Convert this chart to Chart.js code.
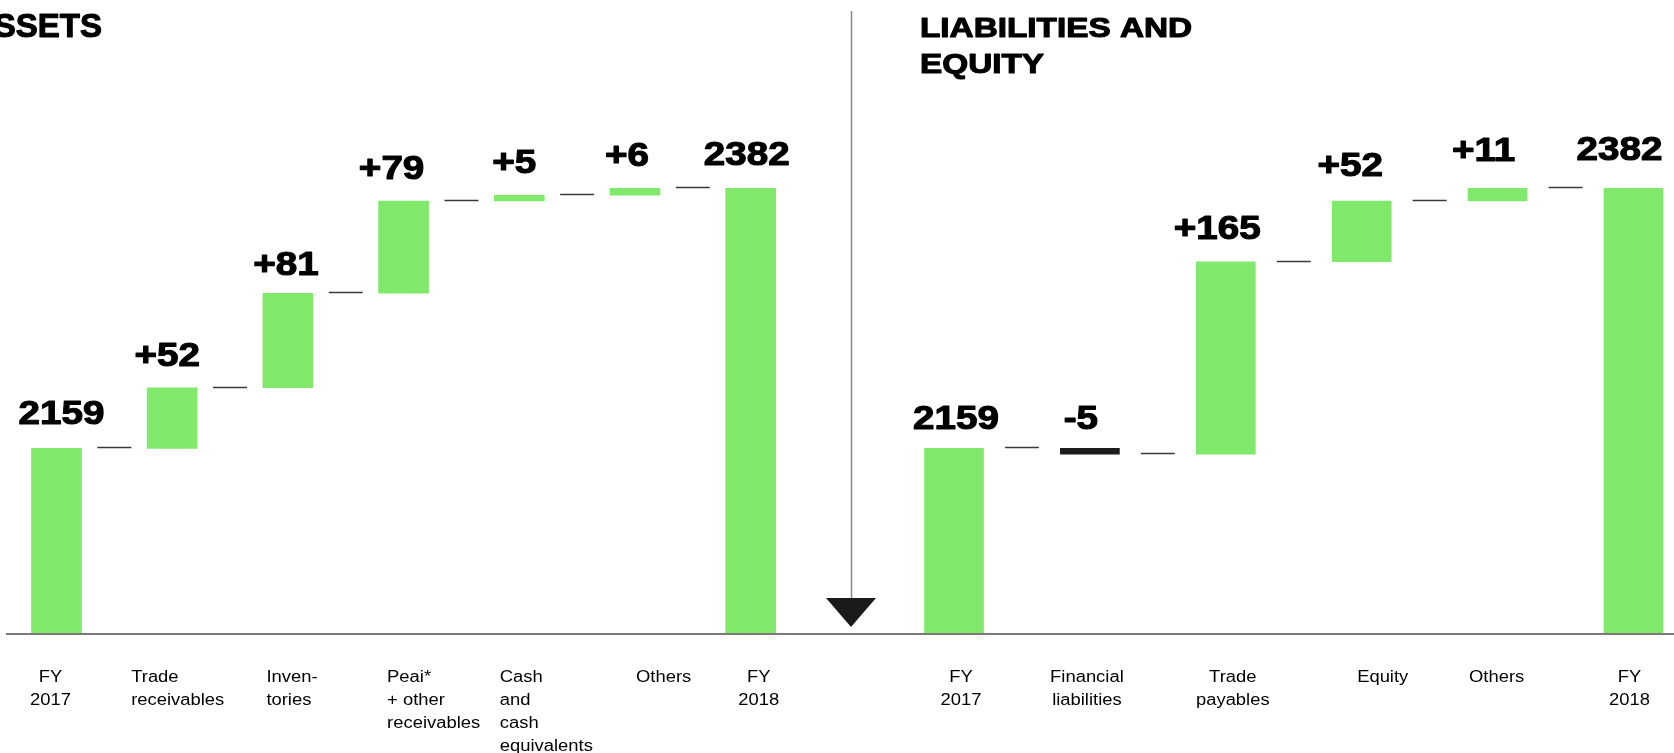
<!DOCTYPE html>
<html>
<head>
<meta charset="utf-8">
<script src="https://cdn.jsdelivr.net/npm/chart.js@4/dist/chart.umd.min.js"></script>
<style>
  html, body { margin: 0; padding: 0; background: #ffffff; overflow: hidden; }
  #wrap { position: relative; width: 1674px; height: 753px; }
  canvas { position: absolute; left: 0; top: 0; }
</style>
</head>
<body>
<div id="wrap">
  <canvas id="assets" width="1674" height="753"></canvas>
  <canvas id="liabilities" width="1674" height="753"></canvas>
</div>
<script>
// ---- Balance sheet bridge, FY 2017 -> FY 2018 ----
const assetLabels = [["FY", "2017"], ["Trade", "receivables"], ["Inven-", "tories"],
                     ["Peai*", "+ other", "receivables"], ["Cash", "and", "cash", "equivalents"],
                     ["Others"], ["FY", "2018"]];
const assetValues = [2159, 52, 81, 79, 5, 6, 2382];
const assetTotals = [true, false, false, false, false, false, true];

const liabLabels = [["FY", "2017"], ["Financial", "liabilities"], ["Trade", "payables"],
                    ["Equity"], ["Others"], ["FY", "2018"]];
const liabValues = [2159, -5, 165, 52, 11, 2382];
const liabTotals = [true, false, false, false, false, true];

const axisMin = 2000;
const axisMax = 2500;

// ---- look & layout ----
const GREEN = '#80e86a';
const NEGATIVE = '#1c1c1c';
const FONT = '"Liberation Sans", Arial, Helvetica, sans-serif';
const BASE_Y = 634;
const TEXT_STRETCH = 1.15;   // the slide's type is set slightly wide
const NUM_STRETCH = 1.17;

const assetLayout = {
  left: 56.5, right: 750.7, bar: 50,
  labelAlign: ['center', 'left', 'left', 'left', 'left', 'left', 'center'],
  labelShift: [-6, -41, -21.5, -16.5, -19.5, 1, 8],
  valueShift: [5, -5, -2, -12, -5, -8, -4],
  valueGap: [24, 22, 18, 22, 22, 22, 23]
};
const liabLayout = {
  left: 954, right: 1633.5, bar: 59,
  labelAlign: ['center', 'center', 'center', 'center', 'center', 'center'],
  labelShift: [7, -3, 7, 21, -1, -4],
  valueShift: [2, -9, -8.5, -11.5, -14, -14],
  valueGap: [19, 19, 23, 25, 27, 28]
};

// floating [start, end] pairs for a waterfall
function bridge(values, totals) {
  let run = 0;
  return values.map((v, i) => {
    if (totals[i]) { run = v; return [axisMin, v]; }
    const start = run;
    run += v;
    return [start, run];
  });
}

// draws text widened by sx; heavy adds an outline to thicken bold type
function stretchText(ctx, text, x, y, sx, align, heavy) {
  ctx.save();
  ctx.translate(x, y);
  ctx.scale(sx, 1);
  ctx.textAlign = align;
  if (heavy) {
    ctx.lineWidth = heavy;
    ctx.lineJoin = 'round';
    ctx.strokeStyle = ctx.fillStyle;
    ctx.strokeText(text, 0, 0);
  }
  ctx.fillText(text, 0, 0);
  ctx.restore();
}

// connectors, value labels and category labels for each bridge
const waterfallDecor = {
  id: 'waterfallDecor',
  afterDatasetsDraw(chart, args, opts) {
    const { ctx } = chart;
    const x = chart.scales.x, y = chart.scales.y;
    const data = chart.data.datasets[0].data;
    const values = opts.values, totals = opts.totals, layout = opts.layout;

    // connector dashes between neighbouring bars
    ctx.save();
    ctx.strokeStyle = '#3a3a3a';
    ctx.lineWidth = 1.4;
    for (let i = 0; i < data.length - 1; i++) {
      const yy = Math.round(y.getPixelForValue(data[i][1])) - 0.5;
      const mid = (x.getPixelForValue(i) + x.getPixelForValue(i + 1)) / 2;
      ctx.beginPath();
      ctx.moveTo(mid - 17, yy);
      ctx.lineTo(mid + 17, yy);
      ctx.stroke();
    }
    ctx.restore();

    // value labels above each bar
    ctx.save();
    ctx.fillStyle = '#000000';
    ctx.font = 'bold 33px ' + FONT;
    ctx.textBaseline = 'alphabetic';
    data.forEach((d, i) => {
      const top = y.getPixelForValue(Math.max(d[0], d[1]));
      const v = values[i];
      const txt = totals[i] ? String(v) : (v > 0 ? '+' + v : String(v));
      stretchText(ctx, txt, x.getPixelForValue(i) + layout.valueShift[i],
                  top - layout.valueGap[i], NUM_STRETCH, 'center', 1.1);
    });
    ctx.restore();

    // category labels under the axis
    ctx.save();
    ctx.fillStyle = '#000000';
    ctx.font = '16px ' + FONT;
    chart.data.labels.forEach((lines, i) => {
      const cx = x.getPixelForValue(i) + layout.labelShift[i];
      lines.forEach((line, k) => {
        stretchText(ctx, line, cx, 682 + k * 23, TEXT_STRETCH, layout.labelAlign[i], 0);
      });
    });
    ctx.restore();
  }
};

// headings, divider arrow and the shared base line
const slideFrame = {
  id: 'slideFrame',
  afterDraw(chart) {
    const { ctx } = chart;
    ctx.save();
    ctx.fillStyle = '#000000';
    ctx.textBaseline = 'alphabetic';
    ctx.font = 'bold 33px ' + FONT;
    stretchText(ctx, 'ASSETS', 102, 37, 1, 'right', 1.1);
    ctx.font = 'bold 28px ' + FONT;
    stretchText(ctx, 'LIABILITIES AND', 920, 37, 1.19, 'left', 1.1);
    stretchText(ctx, 'EQUITY', 920, 73, 1.19, 'left', 1.1);

    // divider with arrow head
    ctx.strokeStyle = '#8a8a8a';
    ctx.lineWidth = 1.5;
    ctx.beginPath();
    ctx.moveTo(851.5, 11);
    ctx.lineTo(851.5, 600);
    ctx.stroke();
    ctx.fillStyle = '#1a1a1a';
    ctx.beginPath();
    ctx.moveTo(826, 598);
    ctx.lineTo(876, 598);
    ctx.lineTo(851, 627);
    ctx.closePath();
    ctx.fill();

    // base line
    ctx.strokeStyle = '#7a7a7a';
    ctx.lineWidth = 2;
    ctx.beginPath();
    ctx.moveTo(6, BASE_Y);
    ctx.lineTo(1674, BASE_Y);
    ctx.stroke();
    ctx.restore();
  }
};

function makeBridge(canvasId, labels, values, totals, layout, extraPlugins) {
  const floats = bridge(values, totals);
  return new Chart(document.getElementById(canvasId), {
    type: 'bar',
    data: {
      labels: labels,
      datasets: [{
        data: floats,
        backgroundColor: values.map((v, i) => (!totals[i] && v < 0) ? NEGATIVE : GREEN),
        borderWidth: 0,
        barThickness: layout.bar,
        clip: { left: false, right: false, top: false, bottom: 0 }
      }]
    },
    options: {
      responsive: false,
      devicePixelRatio: 1,
      animation: false,
      events: [],
      layout: {
        padding: {
          left: layout.left,
          right: 1674 - layout.right,
          top: BASE_Y - (axisMax - axisMin) * 1.167,
          bottom: 753 - BASE_Y
        }
      },
      scales: {
        x: { type: 'category', offset: false, display: false },
        y: { type: 'linear', min: axisMin, max: axisMax, display: false }
      },
      plugins: {
        legend: { display: false },
        tooltip: { enabled: false },
        waterfallDecor: { values: values, totals: totals, layout: layout }
      }
    },
    plugins: [waterfallDecor].concat(extraPlugins)
  });
}

makeBridge('assets', assetLabels, assetValues, assetTotals, assetLayout, []);
makeBridge('liabilities', liabLabels, liabValues, liabTotals, liabLayout, [slideFrame]);
</script>
</body>
</html>
